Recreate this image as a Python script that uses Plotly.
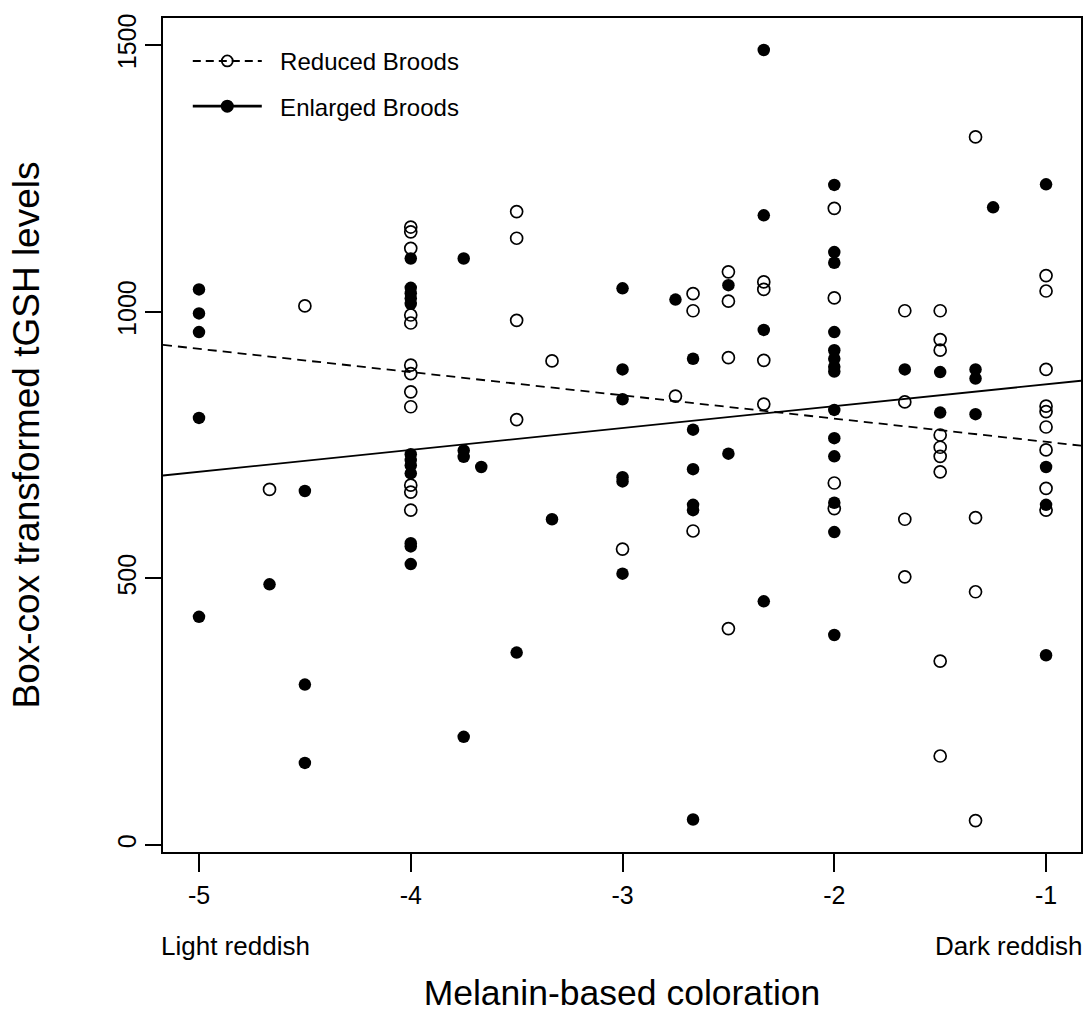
import plotly.graph_objects as go

# ---- data ----
reduced_x = ([-4.667] + [-4.5] + [-4.0] * 12 + [-3.5] * 4 + [-3.333] + [-3.0] + [-2.75]
             + [-2.667] * 3 + [-2.5] * 4 + [-2.333] * 4 + [-2.0] * 4 + [-1.667] * 4
             + [-1.5] * 9 + [-1.333] * 4 + [-1.0] * 9)
reduced_y = ([667] + [1011]
             + [1159, 1150, 1119, 994, 979, 900, 884, 850, 822, 675, 662, 628]
             + [1188, 1138, 984, 798] + [908] + [555] + [842]
             + [1034, 1002, 589] + [1075, 1020, 914, 406]
             + [1056, 1042, 909, 827] + [1194, 1026, 679, 631]
             + [1002, 831, 611, 503]
             + [1002, 948, 928, 769, 746, 729, 700, 345, 167]
             + [1328, 614, 475, 46]
             + [1068, 1039, 892, 823, 813, 784, 741, 669, 628])

enlarged_x = ([-5.0] * 5 + [-4.667] + [-4.5] * 3 + [-4.0] * 12 + [-3.75] * 4 + [-3.667]
              + [-3.5] + [-3.333] + [-3.0] * 6 + [-2.75] + [-2.667] * 6 + [-2.5] * 2
              + [-2.333] * 4 + [-2.0] * 14 + [-1.667] + [-1.5] * 2 + [-1.333] * 3
              + [-1.25] + [-1.0] * 4)
enlarged_y = ([1042, 997, 962, 801, 428] + [489] + [664, 301, 154]
              + [1100, 1045, 1035, 1025, 1015, 733, 722, 712, 697, 566, 560, 527]
              + [1100, 740, 728, 203] + [709] + [361] + [611]
              + [1044, 892, 836, 690, 682, 509] + [1023]
              + [912, 779, 705, 638, 628, 48] + [1050, 734]
              + [1491, 1181, 966, 457]
              + [1238, 1112, 1092, 962, 928, 912, 897, 888, 816, 763, 729, 642, 587, 394]
              + [892] + [887, 811] + [892, 875, 808] + [1196]
              + [1239, 709, 638, 356])

# fitted lines: [intercept at x=0, slope]
reduced_fit = [712.6, -43.6]
enlarged_fit = [905.0, 41.0]

x_ticks = [-5, -4, -3, -2, -1]
x_tick_labels = ["-5", "-4", "-3", "-2", "-1"]
y_ticks = [0, 500, 1000, 1500]
y_tick_labels = ["0", "500", "1000", "1500"]

x_range = [-5.17, -0.835]
y_range = [-13, 1551]

FONT = "Liberation Sans, Arial, sans-serif"
NB = "\u00a0\u00a0"

fig = go.Figure()

line_x = x_range
fig.add_trace(go.Scatter(
    x=line_x, y=[reduced_fit[0] + reduced_fit[1] * v for v in line_x],
    mode="lines", line=dict(color="black", width=1.8, dash="9px,6px"),
    showlegend=False, hoverinfo="skip"))
fig.add_trace(go.Scatter(
    x=line_x, y=[enlarged_fit[0] + enlarged_fit[1] * v for v in line_x],
    mode="lines", line=dict(color="black", width=1.8),
    showlegend=False, hoverinfo="skip"))

fig.add_trace(go.Scatter(
    x=reduced_x, y=reduced_y, mode="markers",
    marker=dict(symbol="circle-open", size=12, color="black", line=dict(width=1.7)),
    showlegend=False))
fig.add_trace(go.Scatter(
    x=enlarged_x, y=enlarged_y, mode="markers",
    marker=dict(symbol="circle", size=12.5, color="black"),
    showlegend=False))

fig.add_trace(go.Scatter(
    x=[None], y=[None], mode="lines+markers", name=NB + "Reduced Broods",
    legendgroup="a",
    line=dict(color="black", width=2, dash="8px,5px"),
    marker=dict(symbol="circle-open", size=11, color="black", line=dict(width=1.8))))
fig.add_trace(go.Scatter(
    x=[None], y=[None], mode="lines+markers", name=NB + "Enlarged Broods",
    legendgroup="b",
    line=dict(color="black", width=2.8),
    marker=dict(symbol="circle", size=13, color="black")))

fig.update_layout(
    width=1090, height=1019,
    margin=dict(l=163, r=7, t=18, b=167),
    paper_bgcolor="white", plot_bgcolor="white",
    font=dict(family=FONT, color="black"),
    showlegend=True,
    legend=dict(
        x=0.027, y=0.975, xanchor="left", yanchor="top",
        bgcolor="rgba(0,0,0,0)", borderwidth=0,
        font=dict(size=24, family=FONT, color="black"),
        itemwidth=69, traceorder="grouped", tracegroupgap=11),
    xaxis=dict(
        range=x_range, tickmode="array", tickvals=x_ticks, ticktext=x_tick_labels,
        showgrid=False, zeroline=False, showline=True, linecolor="black", linewidth=2,
        mirror=True, ticks="outside", ticklen=18, tickwidth=1.5, tickcolor="black",
        tickfont=dict(size=25, family=FONT), ticklabelstandoff=2,
        title=dict(text="Melanin-based coloration", font=dict(size=35.5, family=FONT), standoff=72)),
    yaxis=dict(
        range=y_range, tickmode="array", tickvals=y_ticks, ticktext=y_tick_labels,
        showgrid=False, zeroline=False, showline=True, linecolor="black", linewidth=2,
        mirror=True, ticks="outside", ticklen=16, tickwidth=1.5, tickcolor="black",
        tickangle=-90, tickfont=dict(size=25, family=FONT), ticklabelstandoff=-1,
        title=dict(text="Box-cox transformed tGSH levels", font=dict(size=37, family=FONT), standoff=62)),
    annotations=[
        dict(text="Light reddish", xref="paper", yref="paper", x=-0.004, y=-0.113,
             xanchor="left", yanchor="middle", showarrow=False, font=dict(size=26, family=FONT)),
        dict(text="Dark reddish", xref="paper", yref="paper", x=1.003, y=-0.113,
             xanchor="right", yanchor="middle", showarrow=False, font=dict(size=26, family=FONT)),
    ],
)

fig.write_html("out.html")
